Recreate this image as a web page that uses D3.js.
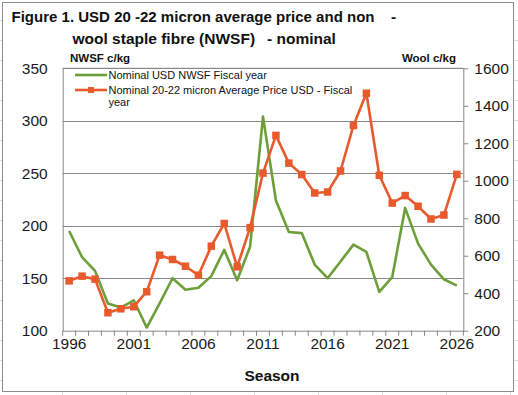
<!DOCTYPE html>
<html><head><meta charset="utf-8">
<script src="https://cdn.jsdelivr.net/npm/d3@7"></script>
<style>
html,body{margin:0;padding:0;background:#fff;}
svg{display:block;font-family:"Liberation Sans",Arial,sans-serif;}
</style></head>
<body>
<svg id="c" width="518" height="395"></svg>
<script>
const seasons = d3.range(1996, 2027);
const nwsf = [195,170,157,126,122,129,103,126,150,139,141,152,177,148,180,304,224,194,193,163,150,166,182,175,137,151,217,183,163,149,143];
const wool = [466,491,475,296,317,328,408,603,580,544,496,651,772,541,750,1041,1242,1094,1033,935,940,1052,1295,1467,1029,881,921,864,796,817,1034];
const xLabels = [1996,2001,2006,2011,2016,2021,2026];
const leftTicks = [100,150,200,250,300,350];
const rightTicks = [200,400,600,800,1000,1200,1400,1600];
const seriesNames = ["Nominal USD NWSF Fiscal year","Nominal 20-22 micron Average Price USD - Fiscal","year"];

const GREEN = "#6c9e3a", ORANGE = "#e85a2c", GRID = "#878787";
const L = 62.7, R = 463.3, T = 68.3, B = 330.7;

const svg = d3.select("#c");

// spreadsheet faint grid outside chart
const sheet = svg.append("g").attr("stroke","#dcdcdc").attr("stroke-width",1);
[62.5,126.5,190.5,254.5,318.5,382.5,446.5,510.5].forEach(x=>sheet.append("line").attr("x1",x).attr("x2",x).attr("y1",392).attr("y2",395));
[20.5,40.5,60.5,80.5,100.5,120.5,140.5,160.5,180.5,200.5,220.5,240.5,260.5,280.5,300.5,320.5,340.5,360.5,380.5].forEach(y=>{
  sheet.append("line").attr("x1",0).attr("x2",2).attr("y1",y).attr("y2",y);
  sheet.append("line").attr("x1",514).attr("x2",518).attr("y1",y).attr("y2",y);
});

// chart border
svg.append("rect").attr("x",2.5).attr("y",2.5).attr("width",511).attr("height",389)
  .attr("fill","#fff").attr("stroke","#8c8c8c").attr("stroke-width",1);

const x = d3.scaleBand().domain(seasons).range([L,R]).padding(0);
const yL = d3.scaleLinear().domain([100,350]).range([B,T]);
const yR = d3.scaleLinear().domain([200,1600]).range([B,T]);
const cx = d => x(d) + x.bandwidth()/2;

// gridlines
svg.append("g").selectAll("line").data(leftTicks.slice(1)).join("line")
  .attr("x1",L).attr("x2",R).attr("y1",d=>Math.round(yL(d))+0.5).attr("y2",d=>Math.round(yL(d))+0.5)
  .attr("stroke",GRID).attr("stroke-width",1);

const FONT = "Liberation Sans, Arial, sans-serif";
// left axis
const gl = svg.append("g").attr("transform",`translate(${L},0)`)
  .call(d3.axisLeft(yL).tickValues(leftTicks).tickSize(0).tickPadding(15));
gl.select(".domain").attr("stroke",GRID);
gl.selectAll("text").attr("font-size","15.5px").attr("fill","#1a1a1a").attr("font-family",FONT);

// right axis
const gr = svg.append("g").attr("transform",`translate(${R},0)`)
  .call(d3.axisRight(yR).tickValues(rightTicks).tickFormat(d3.format("d")).tickSize(5).tickSizeOuter(0).tickPadding(6));
gr.select(".domain").attr("stroke",GRID);
gr.selectAll(".tick line").attr("stroke",GRID);
gr.selectAll("text").attr("font-size","15.5px").attr("fill","#1a1a1a").attr("font-family",FONT);

// x axis
const gx = svg.append("g").attr("transform",`translate(0,${B})`)
  .call(d3.axisBottom(x).tickValues(xLabels).tickSize(0).tickPadding(7));
gx.select(".domain").attr("stroke",GRID);
gx.selectAll("text").attr("font-size","15.5px").attr("fill","#1a1a1a").attr("font-family",FONT);
const bounds = seasons.map(s=>x(s)).concat([R]);
svg.append("g").selectAll("line").data(bounds).join("line")
  .attr("x1",d=>d).attr("x2",d=>d).attr("y1",B).attr("y2",B+5).attr("stroke",GRID);

// top border of plot area
svg.append("line").attr("x1",L).attr("x2",R).attr("y1",T).attr("y2",T).attr("stroke",GRID);

// series
const lineG = d3.line().x((d,i)=>cx(seasons[i])).y(d=>yL(d));
const lineO = d3.line().x((d,i)=>cx(seasons[i])).y(d=>yR(d));
svg.append("path").datum(nwsf).attr("d",lineG).attr("fill","none").attr("stroke",GREEN).attr("stroke-width",2.6).attr("stroke-linejoin","round");
svg.append("path").datum(wool).attr("d",lineO).attr("fill","none").attr("stroke",ORANGE).attr("stroke-width",2.6).attr("stroke-linejoin","round");
svg.append("g").selectAll("rect").data(wool).join("rect")
  .attr("x",(d,i)=>cx(seasons[i])-3.75).attr("y",d=>yR(d)-3.75).attr("width",7.5).attr("height",7.5).attr("fill",ORANGE);

// legend
const lg = svg.append("g");
lg.append("line").attr("x1",75).attr("x2",107).attr("y1",75).attr("y2",75).attr("stroke",GREEN).attr("stroke-width",2.6);
lg.append("text").attr("x",108.5).attr("y",79).attr("font-size","11px").attr("fill","#111").text(seriesNames[0]);
lg.append("line").attr("x1",75).attr("x2",107).attr("y1",90).attr("y2",90).attr("stroke",ORANGE).attr("stroke-width",2.6);
lg.append("rect").attr("x",88).attr("y",87).attr("width",6).attr("height",6).attr("fill",ORANGE);
lg.append("text").attr("x",108.5).attr("y",94).attr("font-size","11px").attr("fill","#111").text(seriesNames[1]);
lg.append("text").attr("x",108.5).attr("y",106).attr("font-size","11px").attr("fill","#111").text(seriesNames[2]);

// titles
svg.append("text").attr("x",11.5).attr("y",22).attr("font-size","15.5px").attr("font-weight","bold").attr("fill","#111")
  .attr("textLength",363).attr("lengthAdjust","spacingAndGlyphs")
  .text("Figure 1. USD 20 -22 micron average price and non");
svg.append("text").attr("x",391).attr("y",22).attr("font-size","15.5px").attr("font-weight","bold").attr("fill","#111").text("-");
svg.append("text").attr("x",72.5).attr("y",44).attr("font-size","15.5px").attr("font-weight","bold").attr("fill","#111")
  .text("wool staple fibre (NWSF)");
svg.append("text").attr("x",267).attr("y",44).attr("font-size","15.5px").attr("font-weight","bold").attr("fill","#111").text("- nominal");

svg.append("text").attr("x",70).attr("y",62).attr("font-size","11.5px").attr("font-weight","bold").attr("fill","#111").text("NWSF c/kg");
svg.append("text").attr("x",456).attr("y",62).attr("text-anchor","end").attr("font-size","11.5px").attr("font-weight","bold").attr("fill","#111").text("Wool c/kg");
svg.append("text").attr("x",272).attr("y",381).attr("text-anchor","middle").attr("font-size","15.5px").attr("font-weight","bold").attr("fill","#111").text("Season");
</script>
</body></html>
